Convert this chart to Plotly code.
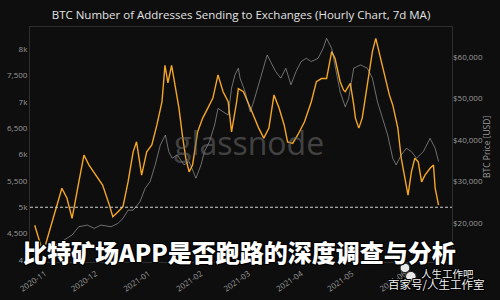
import plotly.graph_objects as go

# ---------------- data ----------------
addr_dates = [
    "2020-10-26", "2020-10-30", "2020-11-01", "2020-11-07", "2020-11-11", "2020-11-14",
    "2020-11-17", "2020-11-21", "2020-11-24", "2020-11-27", "2020-12-01", "2020-12-05",
    "2020-12-09", "2020-12-11", "2020-12-14", "2020-12-17", "2020-12-20", "2020-12-23",
    "2020-12-25", "2020-12-28", "2020-12-31", "2021-01-03", "2021-01-06", "2021-01-09",
    "2021-01-10 18:00", "2021-01-12 12:00", "2021-01-14 16:00", "2021-01-17", "2021-01-19", "2021-01-21",
    "2021-01-23", "2021-01-25", "2021-01-27", "2021-01-30", "2021-02-02", "2021-02-05",
    "2021-02-08", "2021-02-11", "2021-02-14", "2021-02-17", "2021-02-19", "2021-02-22",
    "2021-02-23", "2021-02-26", "2021-03-01", "2021-03-03", "2021-03-07", "2021-03-10",
    "2021-03-13", "2021-03-16", "2021-03-19", "2021-03-22", "2021-03-24", "2021-03-27",
    "2021-03-30", "2021-04-03", "2021-04-07", "2021-04-10", "2021-04-13", "2021-04-16",
    "2021-04-19", "2021-04-21", "2021-04-24", "2021-04-26", "2021-04-27", "2021-04-30",
    "2021-05-02", "2021-05-03", "2021-05-05", "2021-05-07", "2021-05-10", "2021-05-13",
    "2021-05-15", "2021-05-18", "2021-05-21", "2021-05-23", "2021-05-25", "2021-05-28",
    "2021-05-30", "2021-06-01", "2021-06-03", "2021-06-05", "2021-06-07", "2021-06-09",
    "2021-06-11", "2021-06-13", "2021-06-16", "2021-06-18", "2021-06-19", "2021-06-21",
]
addr_values = [
    4660, 4230, 4250, 4910, 5360, 5170,
    4790, 5480, 5990, 5800, 5610, 5420,
    5040, 4820, 4910, 5010, 5480, 6050,
    6240, 5610, 6050, 6180, 6560, 7000,
    7690, 7360, 7690, 7250, 6880, 6370,
    5930, 5670, 5800, 6430, 6690, 6880,
    7070, 7510, 7190, 7000, 6430, 7000,
    7250, 7190, 6940, 6810, 6500, 6310,
    6500, 7130, 6880, 6560, 6240, 6210,
    6370, 6620, 7000, 7380, 7440, 7440,
    7950, 7820, 7380, 7220, 7190, 7350,
    6940, 6690, 6500, 6690, 7320, 7950,
    8200, 7820, 7440, 7130, 6940, 6500,
    5930, 5550, 5230, 5670, 5930, 5860,
    5480, 5610, 5740, 5800, 5360, 5040,
]

price_dates = [
    "2020-10-26", "2020-11-03", "2020-11-10", "2020-11-17", "2020-11-21", "2020-11-26",
    "2020-11-30", "2020-12-04", "2020-12-10", "2020-12-14", "2020-12-17", "2020-12-20",
    "2020-12-23", "2020-12-27", "2020-12-30", "2021-01-02", "2021-01-05", "2021-01-08",
    "2021-01-11", "2021-01-13", "2021-01-15", "2021-01-18", "2021-01-22", "2021-01-25",
    "2021-01-29", "2021-02-01", "2021-02-03", "2021-02-06", "2021-02-09", "2021-02-11",
    "2021-02-14", "2021-02-17", "2021-02-19", "2021-02-21", "2021-02-23", "2021-02-24",
    "2021-02-27", "2021-03-02", "2021-03-04", "2021-03-07", "2021-03-10", "2021-03-12",
    "2021-03-14", "2021-03-17", "2021-03-20", "2021-03-23", "2021-03-26", "2021-03-29",
    "2021-04-01", "2021-04-04", "2021-04-07", "2021-04-11", "2021-04-14", "2021-04-16",
    "2021-04-19", "2021-04-22", "2021-04-24", "2021-04-27", "2021-04-29", "2021-05-02",
    "2021-05-06", "2021-05-10", "2021-05-13", "2021-05-16", "2021-05-19", "2021-05-22",
    "2021-05-25", "2021-05-27", "2021-05-30", "2021-06-02", "2021-06-05", "2021-06-08",
    "2021-06-12", "2021-06-16", "2021-06-19", "2021-06-21",
]
price_values = [
    13100, 13800, 15300, 17100, 19100, 19500,
    18700, 19500, 19100, 19900, 21100, 23100,
    23100, 25100, 28300, 30000, 34000, 38800,
    41200, 37200, 35600, 36400, 34000, 34800,
    30800, 34000, 37200, 39600, 43600, 47600,
    46800, 46000, 52500, 55700, 57300, 54900,
    51600, 46800, 49200, 53300, 57300, 60500,
    58900, 56500, 54900, 57300, 53300, 56500,
    58900, 59700, 58900, 59700, 62100, 64500,
    62100, 55700, 51600, 48000, 50000, 57300,
    58100, 57300, 54900, 49200, 45200, 41200,
    35600, 34000, 36400, 38000, 37200, 35600,
    37200, 40400, 38000, 34800,
]

left_tickvals = [4000, 4500, 5000, 5500, 6000, 6500, 7000, 7500, 8000]
left_ticktext = ["4k", "4,500", "5k", "5,500", "6k", "6,500", "7k", "7,500", "8k"]
right_tickvals = [20000, 30000, 40000, 50000, 60000]
right_ticktext = ["$20,000", "$30,000", "$40,000", "$50,000", "$60,000"]
x_tickvals = ["2020-11-01", "2020-12-01", "2021-01-01", "2021-02-01", "2021-03-01",
              "2021-04-01", "2021-05-01", "2021-06-01"]
x_ticktext = ["2020-11", "2020-12", "2021-01", "2021-02", "2021-03",
              "2021-04", "2021-05", "2021-06"]
threshold = 5000

title_text = "BTC Number of Addresses Sending to Exchanges (Hourly Chart, 7d MA)"
overlay_text = "比特矿场APP是否跑路的深度调查与分析"

# ---------------- figure ----------------
BG = "#0e0e0e"
fig = go.Figure()

fig.add_trace(go.Scatter(
    x=price_dates, y=price_values, yaxis="y2", mode="lines",
    line=dict(color="rgba(190,190,190,0.55)", width=1),
    showlegend=False, hoverinfo="skip",
))
fig.add_trace(go.Scatter(
    x=addr_dates, y=addr_values, mode="lines",
    line=dict(color="#f5a623", width=1.4),
    showlegend=False, hoverinfo="skip",
))

fig.add_shape(type="line", xref="paper", yref="y", x0=0, x1=1,
              y0=threshold, y1=threshold,
              line=dict(color="#d0d0d0", width=1.2, dash="3px,2px"))

tick_font = dict(family="Open Sans, DejaVu Sans, sans-serif", size=8, color="#9a9a9a")

fig.update_layout(
    width=500, height=300,
    margin=dict(l=30, r=48, t=27, b=38, autoexpand=False),
    paper_bgcolor=BG, plot_bgcolor=BG,
    title=dict(text=title_text, x=0.482, xanchor="center", y=0.95, yanchor="middle",
               font=dict(family="Open Sans, DejaVu Sans, sans-serif", size=11.5, color="#e2e2e2")),
    xaxis=dict(
        type="date", range=["2020-10-23 05:00", "2021-06-28 22:00"],
        tickvals=x_tickvals, ticktext=x_ticktext, tickangle=-35,
        ticklabelstandoff=3, automargin=False,
        tickfont=tick_font, showgrid=False, zeroline=False,
        showline=True, linecolor="#2e2e2e", linewidth=1, mirror=True, ticks="",
    ),
    yaxis=dict(
        range=[3962, 8417], tickvals=left_tickvals, ticktext=left_ticktext,
        tickfont=tick_font, showgrid=False, zeroline=False, automargin=False,
        showline=True, linecolor="#2e2e2e", linewidth=1, mirror=True, ticks="",
    ),
    yaxis2=dict(
        range=[10600, 67230], overlaying="y", side="right", automargin=False,
        tickvals=right_tickvals, ticktext=right_ticktext,
        tickfont=tick_font, showgrid=False, zeroline=False, showline=False, ticks="",
    ),
)

# watermark
fig.add_annotation(text="glassnode", xref="paper", yref="paper", x=0.52, y=0.51,
                   showarrow=False, xanchor="center", yanchor="middle",
                   font=dict(family="Open Sans, DejaVu Sans, sans-serif", size=32,
                             color="rgba(110,110,110,0.55)"))

# right axis title
fig.add_annotation(text="BTC Price [USD]", xref="paper", yref="paper", x=1.083, y=0.49,
                   showarrow=False, textangle=-90, xanchor="center", yanchor="middle",
                   font=dict(family="Open Sans, DejaVu Sans, sans-serif", size=8.5, color="#9a9a9a"))

outline = ("1px 1px 0 #000, -1px -1px 0 #000, 1px -1px 0 #000, -1px 1px 0 #000, "
           "0 1px 0 #000, 0 -1px 0 #000, 1px 0 0 #000, -1px 0 0 #000")

# Chinese overlay headline
fig.add_annotation(text=overlay_text, xref="paper", yref="paper", x=-0.021, y=0.045,
                   showarrow=False, xanchor="left", yanchor="middle",
                   font=dict(family="Noto Sans CJK SC", size=24, color="#ffffff",
                             weight=900, shadow=outline))

# bottom-right watermark
fig.add_annotation(text="人生工作吧", xref="paper", yref="paper", x=0.99, y=-0.048,
                   showarrow=False, xanchor="center", yanchor="middle",
                   font=dict(family="Noto Sans CJK SC", size=10.5, color="#f2f2f2", shadow=outline))
fig.add_annotation(text="百家号/人生工作室", xref="paper", yref="paper", x=0.963, y=-0.095,
                   showarrow=False, xanchor="center", yanchor="middle",
                   font=dict(family="Noto Sans CJK SC", size=11.5, color="#f2f2f2", shadow=outline))
# small chat-bubble icon
fig.add_shape(type="circle", xref="paper", yref="paper", x0=0.877, x1=0.9, y0=-0.045, y1=-0.005,
              line=dict(color="#222", width=1), fillcolor="#e8e8e8")
fig.add_shape(type="circle", xref="paper", yref="paper", x0=0.89, x1=0.915, y0=-0.085, y1=-0.04,
              line=dict(color="#222", width=1), fillcolor="#e8e8e8")

fig.write_html("out.html")
